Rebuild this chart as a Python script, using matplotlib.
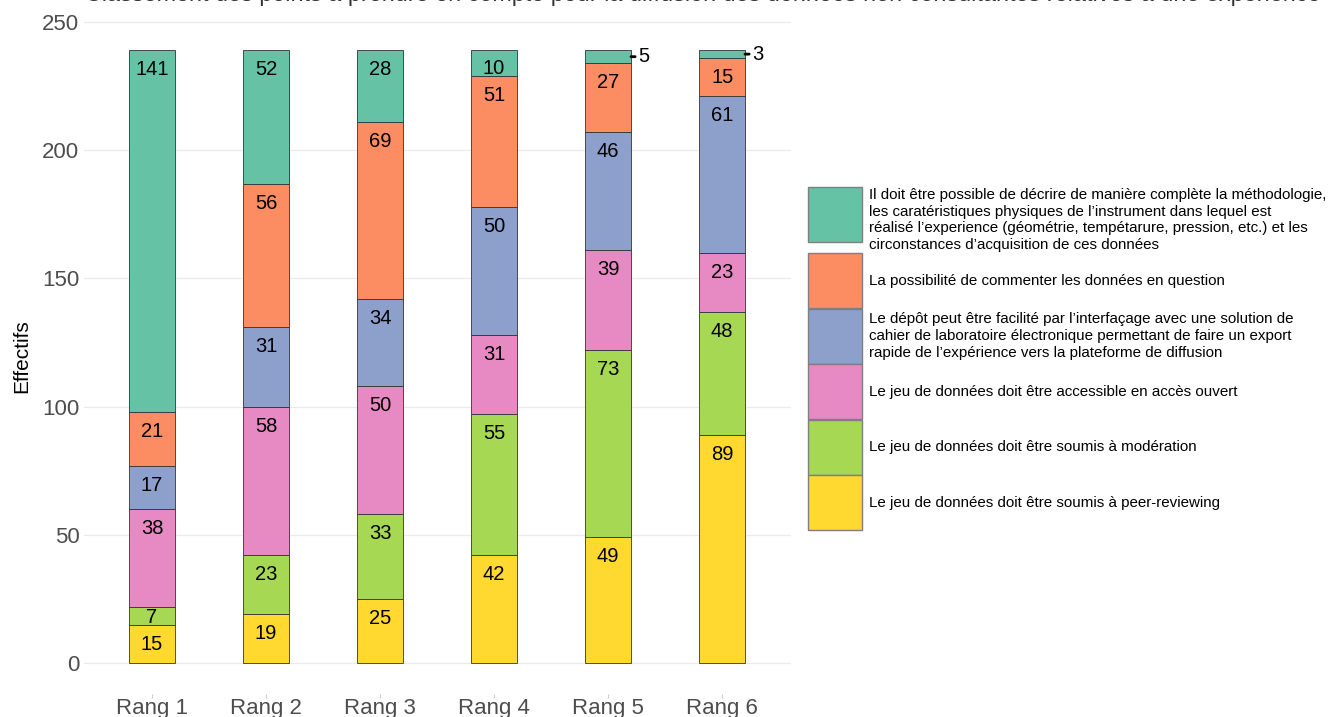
import matplotlib
matplotlib.use("Agg")
import matplotlib.pyplot as plt
from matplotlib.patches import Rectangle
import numpy as np

plt.rcParams['font.family'] = ['Liberation Sans', 'DejaVu Sans']

title = ("Classement des points à prendre en compte pour la diffusion des données "
         "non consultantes relatives à une expérience")
categories = ["Rang 1", "Rang 2", "Rang 3", "Rang 4", "Rang 5", "Rang 6"]

# stacked bottom -> top
peer_review = [15, 19, 25, 42, 49, 89]
moderation = [7, 23, 33, 55, 73, 48]
acces_ouvert = [38, 58, 50, 31, 39, 23]
interfacage = [17, 31, 34, 50, 46, 61]
commenter = [21, 56, 69, 51, 27, 15]
decrire = [141, 52, 28, 10, 5, 3]

series = [peer_review, moderation, acces_ouvert, interfacage, commenter, decrire]
colors = ["#FFD92F", "#A6D854", "#E78AC3", "#8DA0CB", "#FC8D62", "#66C2A5"]

legend_labels = [
    "Il doit être possible de décrire de manière complète la méthodologie,\n"
    "les caratéristiques physiques de l\u2019instrument dans lequel est\n"
    "réalisé l\u2019experience (géométrie, tempétarure, pression, etc.) et les\n"
    "circonstances d\u2019acquisition de ces données",
    "La possibilité de commenter les données en question",
    "Le dépôt peut être facilité par l\u2019interfaçage avec une solution de\n"
    "cahier de laboratoire électronique permettant de faire un export\n"
    "rapide de l\u2019expérience vers la plateforme de diffusion",
    "Le jeu de données doit être accessible en accès ouvert",
    "Le jeu de données doit être soumis à modération",
    "Le jeu de données doit être soumis à peer-reviewing",
]
legend_colors = colors[::-1]

W, H, DPI = 1335, 717, 100
fig = plt.figure(figsize=(W / DPI, H / DPI), dpi=DPI)
ax = fig.add_axes([83.6 / W, 23 / H, 707 / W, 675 / H])

x = np.arange(len(categories))
bw = 0.4
bottom = np.zeros(len(categories))
for vals, col in zip(series, colors):
    ax.bar(x, vals, bw, bottom=bottom, color=col, edgecolor="#333333",
           linewidth=0.6, zorder=2)
    bottom = bottom + np.array(vals)

ax.set_xlim(-0.6, len(categories) - 0.4)
ax.set_ylim(-12.1, 251.2)

# px per data unit
p0 = ax.transData.transform((0, 0))[1]
p1 = ax.transData.transform((0, 100))[1]
ppu = (p1 - p0) / 100.0
px2pt = 72.0 / DPI

bottom = np.zeros(len(categories))
for vals, col in zip(series, colors):
    for i, v in enumerate(vals):
        top = bottom[i] + v
        seg_px = v * ppu
        if seg_px < 15:
            ax.annotate(str(v), xy=(x[i] + bw / 2, bottom[i] + v / 2),
                        xytext=(5, 0), textcoords="offset points",
                        ha="left", va="center", fontsize=14.5, color="black",
                        arrowprops=dict(arrowstyle="-", color="black", lw=2.0,
                                        shrinkA=0, shrinkB=0))
        else:
            off = min(25.0, seg_px - 2.0)
            ax.annotate(str(v), xy=(x[i], top), xytext=(0, -off * px2pt),
                        textcoords="offset points", ha="center", va="baseline",
                        fontsize=14.5, color="black", zorder=3)
    bottom = bottom + np.array(vals)

ax.set_yticks([0, 50, 100, 150, 200, 250])
ax.set_xticks(x)
ax.set_xticklabels(categories)
ax.yaxis.grid(True, color="#EBEBEB", linewidth=0.9, zorder=0)
ax.set_axisbelow(True)
for s in ax.spines.values():
    s.set_visible(False)
ax.tick_params(axis="y", length=0, pad=3, labelsize=16, labelcolor="#4D4D4D")
ax.tick_params(axis="x", length=3, color="#CCCCCC", pad=0, labelsize=16,
               labelcolor="#4D4D4D")
ax.set_ylabel("Effectifs", fontsize=15, color="black", labelpad=8)

fig.text(703 / W, 1 - 1.5 / H, title, ha="center", va="baseline", fontsize=16.8,
         color="#333333")

# legend drawn in pixel coordinates
lax = fig.add_axes([0, 0, 1, 1])
lax.set_xlim(0, W)
lax.set_ylim(H, 0)
lax.axis("off")
key_x, key_w, key_h = 808, 54, 55
line_h = 17
y = 187
for lab, col in zip(legend_labels, legend_colors):
    n = lab.count("\n") + 1
    row_h = max(key_h + 0.5, n * line_h - 2)
    lax.add_patch(Rectangle((key_x, y), key_w, key_h, facecolor=col,
                            edgecolor="#7F7F7F", linewidth=1.0))
    lax.text(key_x + key_w + 7, y + row_h / 2, lab, ha="left", va="center",
             fontsize=10.9, linespacing=1.25, color="black")
    y += row_h

fig.savefig("out.png", dpi=DPI)
